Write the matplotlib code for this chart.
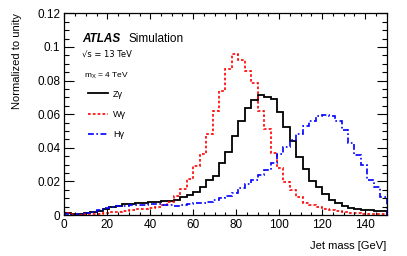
import numpy as np
import matplotlib
matplotlib.use("Agg")
import matplotlib.pyplot as plt
from matplotlib.ticker import MultipleLocator

plt.rcParams['font.family'] = ['Liberation Sans', 'DejaVu Sans']
plt.rcParams['mathtext.fontset'] = 'custom'
plt.rcParams['mathtext.rm'] = 'Liberation Sans'
plt.rcParams['mathtext.it'] = 'Liberation Sans:italic'

# bin edges: 0..150 GeV in 3 GeV bins
bin_edges = list(range(0, 151, 3))

z_gamma = [0.0010, 0.0005, 0.0004, 0.0010, 0.0018, 0.0025, 0.0033, 0.0045, 0.0055, 0.0063,
           0.0068, 0.0071, 0.0074, 0.0077, 0.0079, 0.0081, 0.0084, 0.0092, 0.0105, 0.0120,
           0.0140, 0.0168, 0.0208, 0.0232, 0.0307, 0.0374, 0.0469, 0.0562, 0.0634, 0.0687,
           0.0713, 0.0703, 0.0689, 0.0610, 0.0523, 0.0442, 0.0343, 0.0273, 0.0203, 0.0165,
           0.0124, 0.0087, 0.0069, 0.0051, 0.0042, 0.0036, 0.0032, 0.0029, 0.0027, 0.0025]

w_gamma = [0.0010, 0.0004, 0.0003, 0.0004, 0.0006, 0.0009, 0.0012, 0.0016, 0.0020, 0.0024,
           0.0028, 0.0033, 0.0038, 0.0044, 0.0050, 0.0058, 0.0076, 0.0111, 0.0153, 0.0213,
           0.0289, 0.0362, 0.0485, 0.0619, 0.0738, 0.0870, 0.0958, 0.0920, 0.0857, 0.0788,
           0.0616, 0.0510, 0.0370, 0.0281, 0.0195, 0.0146, 0.0107, 0.0072, 0.0058, 0.0047,
           0.0036, 0.0030, 0.0024, 0.0017, 0.0014, 0.0011, 0.0009, 0.0008, 0.0007, 0.0006]

h_gamma = [0.0008, 0.0003, 0.0004, 0.0012, 0.0020, 0.0030, 0.0040, 0.0048, 0.0053, 0.0056,
           0.0058, 0.0060, 0.0062, 0.0063, 0.0063, 0.0062, 0.0058, 0.0056, 0.0060, 0.0063,
           0.0070, 0.0073, 0.0079, 0.0089, 0.0099, 0.0115, 0.0133, 0.0158, 0.0185, 0.0210,
           0.0240, 0.0270, 0.0310, 0.0366, 0.0402, 0.0446, 0.0485, 0.0530, 0.0562, 0.0590,
           0.0594, 0.0588, 0.0560, 0.0505, 0.0430, 0.0360, 0.0297, 0.0208, 0.0168, 0.0110]

labels = ["Z\u03b3", "W\u03b3", "H\u03b3"]

fig = plt.figure(figsize=(4.07, 2.56), dpi=100)
ax = fig.add_axes([0.158, 0.160, 0.792, 0.788])

ax.stairs(z_gamma, bin_edges, color='black', lw=1.3, label=labels[0])
ax.stairs(w_gamma, bin_edges, color='#ff0000', lw=1.2, linestyle=(0, (1.6, 1.3)), label=labels[1])
ax.stairs(h_gamma, bin_edges, color='#0000ff', lw=1.2, linestyle=(0, (3.5, 1.5, 1.0, 1.5)), label=labels[2])

ax.set_xlim(0, 150)
ax.set_ylim(0, 0.12)
ax.xaxis.set_major_locator(MultipleLocator(20))
ax.xaxis.set_minor_locator(MultipleLocator(5))
ax.yaxis.set_major_locator(MultipleLocator(0.02))
ax.yaxis.set_minor_locator(MultipleLocator(0.005))
ax.set_yticks([0, 0.02, 0.04, 0.06, 0.08, 0.1, 0.12])
ax.set_yticklabels(["0", "0.02", "0.04", "0.06", "0.08", "0.1", "0.12"])
ax.tick_params(axis='both', which='both', direction='in', top=True, right=True, labelsize=8.5, colors='black')
ax.tick_params(axis='y', which='major', length=7.5, width=0.8, pad=3)
ax.tick_params(axis='y', which='minor', length=3.8, width=0.8)
ax.tick_params(axis='x', which='major', length=4.5, width=0.8, pad=3)
ax.tick_params(axis='x', which='minor', length=2.3, width=0.8)
for s in ax.spines.values():
    s.set_linewidth(0.9)

ax.set_xlabel("Jet mass [GeV]", fontsize=8, ha='right', x=1.0, labelpad=7)
ax.set_ylabel("Normalized to unity", fontsize=8, ha='right', y=1.0, labelpad=11)

ax.text(0.055, 0.86, "ATLAS", transform=ax.transAxes, fontsize=8.5, fontweight='bold', fontstyle='italic')
ax.text(0.198, 0.86, "Simulation", transform=ax.transAxes, fontsize=8.5)
ax.text(0.055, 0.785, "\u221as = 13 TeV", transform=ax.transAxes, fontsize=6, family=['DejaVu Sans'])
ax.text(0.062, 0.68, r"m$_{\mathrm{X}}$ = 4 TeV", transform=ax.transAxes, fontsize=6)

ax.legend(loc='upper left', bbox_to_anchor=(0.062, 0.64), frameon=False, fontsize=6.5,
          handlelength=2.2, handletextpad=0.6, labelspacing=1.25, borderaxespad=0)

fig.savefig("out.png", dpi=100)
